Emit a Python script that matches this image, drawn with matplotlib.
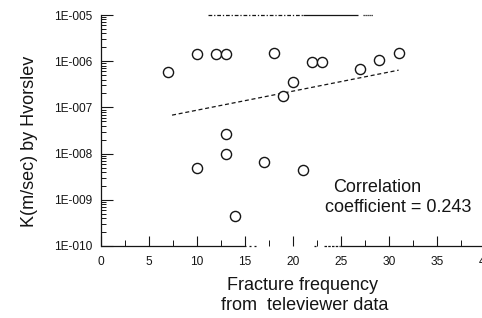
import matplotlib
matplotlib.use("Agg")
import matplotlib.pyplot as plt
from matplotlib.ticker import LogLocator, FixedLocator, NullFormatter
import matplotlib.transforms as mtransforms

plt.rcParams['font.family'] = ['Liberation Sans', 'DejaVu Sans']

# Data
fracture_freq = [7, 10, 12, 13, 18, 20, 19, 22, 23, 27, 29, 31,
                 13, 13, 10, 17, 21, 14]
k_hvorslev = [5.8e-7, 1.4e-6, 1.45e-6, 1.45e-6, 1.5e-6, 3.6e-7, 1.75e-7,
              9.5e-7, 9.5e-7, 6.8e-7, 1.08e-6, 1.47e-6,
              2.7e-8, 9.8e-9, 4.8e-9, 6.5e-9, 4.4e-9, 4.4e-10]
fit_x = [7.4, 31.0]
fit_k = [6.8e-8, 6.4e-7]
y_ticks = [1e-10, 1e-9, 1e-8, 1e-7, 1e-6, 1e-5]
y_tick_labels = ["1E-010", "1E-009", "1E-008", "1E-007", "1E-006", "1E-005"]
x_ticks = [0, 5, 10, 15, 20, 25, 30, 35, 40]
x_tick_labels = ["0", "5", "10", "15", "20", "25", "30", "35", "40"]
corr_text = ["Correlation", "coefficient = 0.243"]
xlabel_lines = ["Fracture frequency", "from  televiewer data"]
ylabel = "K(m/sec) by Hvorslev"

W, H = 482, 318
fig = plt.figure(figsize=(W / 100, H / 100), dpi=100)
ax = fig.add_axes([101 / W, 1 - 246 / H, (485 - 101) / W, (246 - 15) / H])
ink = '#151515'

ax.set_yscale('log')
ax.set_xlim(0, 40)
ax.set_ylim(1e-10, 1e-5)

ax.plot(fracture_freq, k_hvorslev, linestyle='none', marker='o',
        markersize=7.3, markerfacecolor='white', markeredgecolor=ink,
        markeredgewidth=1.0, zorder=3)
ax.plot(fit_x, fit_k, linestyle=(0, (3.2, 2.2)), color=ink, linewidth=0.9)

# ticks
ax.yaxis.set_major_locator(FixedLocator(y_ticks))
ax.set_yticklabels(y_tick_labels)
ax.yaxis.set_minor_locator(LogLocator(base=10, subs=range(2, 10), numticks=20))
ax.yaxis.set_minor_formatter(NullFormatter())
ax.xaxis.set_major_locator(FixedLocator(x_ticks))
ax.set_xticklabels(x_tick_labels)
ax.xaxis.set_minor_locator(FixedLocator([2.5, 7.5, 12.5, 17.5, 22.5, 27.5, 32.5, 37.5]))

ax.tick_params(axis='y', which='major', direction='in', length=8.6, width=0.8,
               color=ink, labelsize=8.6, pad=6.2, labelcolor=ink)
ax.tick_params(axis='y', which='minor', direction='in', length=3.8, width=0.7, color=ink)
ax.tick_params(axis='x', which='major', direction='in', length=7.2, width=0.8,
               color=ink, labelsize=8.6, pad=7.5, labelcolor=ink)
ax.tick_params(axis='x', which='minor', direction='in', length=4.3, width=0.7, color=ink)

for s in ['top', 'right', 'bottom']:
    ax.spines[s].set_visible(False)
ax.spines['left'].set_color(ink)
ax.spines['left'].set_linewidth(0.9)

# broken (scanned) bottom axis line
trb = mtransforms.blended_transform_factory(ax.transData, ax.transAxes)
for x0, x1, ls in [(0, 15.1, '-'), (15.4, 15.6, '-'), (15.9, 16.1, '-'),
                   (22.2, 22.35, '-'), (23.2, 24.9, (0, (2, 1))), (24.9, 40, '-')]:
    ax.plot([x0, x1], [0, 0], transform=trb, color=ink, linewidth=0.9,
            linestyle=ls, clip_on=False, solid_capstyle='butt')
# partial top axis line
for x0, x1, ls in [(11.1, 21.0, (0, (3, 1.5, 1, 1.5))), (21.0, 26.8, '-'),
                   (27.3, 28.3, (0, (1, 0.6)))]:
    ax.plot([x0, x1], [1, 1], transform=trb, color=ink, linewidth=0.9,
            linestyle=ls, clip_on=False, solid_capstyle='butt')

def px(x, y):
    return x / W, 1 - y / H

fig.text(*px(29.5, 141), ylabel, rotation=90, ha='center', va='center',
         fontsize=13, color=ink)
fig.text(*px(227, 285), xlabel_lines[0], ha='left', va='center', fontsize=13, color=ink)
fig.text(*px(221, 306), xlabel_lines[1], ha='left', va='center', fontsize=13, color=ink)
fig.text(*px(333, 188), corr_text[0], ha='left', va='center', fontsize=13, color=ink)
fig.text(*px(325, 208), corr_text[1], ha='left', va='center', fontsize=13, color=ink)

fig.savefig('out.png', dpi=100)
